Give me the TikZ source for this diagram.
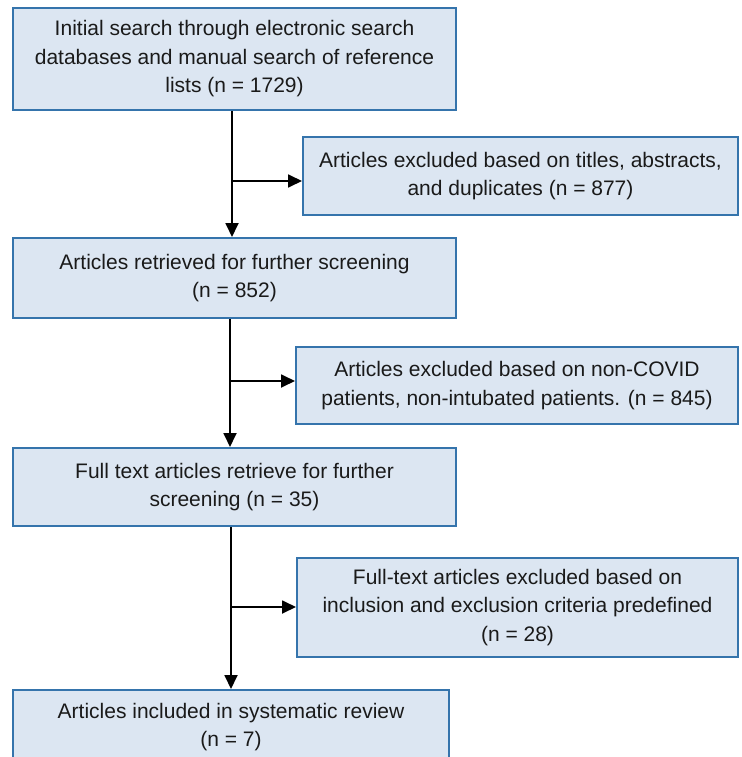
\documentclass[tikz,border=0pt]{standalone}
\usepackage{fontspec}
\setmainfont{Liberation Sans}
\usetikzlibrary{arrows.meta}
\definecolor{boxfill}{HTML}{DCE6F2}
\definecolor{boxline}{HTML}{3574AC}
\definecolor{txt}{HTML}{1A1A1A}
\begin{document}
\begin{tikzpicture}[x=1pt,y=-1pt,
  fbox/.style={draw=boxline, line width=2pt, fill=boxfill, text=txt,
    align=center, inner sep=0pt, font=\fontsize{21}{28.5}\selectfont},
  conn/.style={draw=black, line width=1.8pt, -{Triangle[length=14pt,width=13pt]}}]
\clip (0,0) rectangle (741,757);
\useasboundingbox (0,0) rectangle (741,757);
\fill[white] (0,0) rectangle (741,757);
\node[fbox, minimum width=443pt, minimum height=102pt] (b1) at (234.5,59)
  {Initial search through electronic search\\databases and manual search of reference\\lists (n = 1729)};
\node[fbox, minimum width=435pt, minimum height=78pt] (b2) at (520.5,176)
  {Articles excluded based on titles, abstracts,\\and duplicates (n = 877)};
\node[fbox, minimum width=443pt, minimum height=80pt] (b3) at (234.5,278)
  {Articles retrieved for further screening\\(n = 852)};
\node[fbox, minimum width=442pt, minimum height=77pt] (b4) at (517,385.5)
  {Articles excluded based on non-COVID\\patients, non-intubated patients. (n = 845)};
\node[fbox, minimum width=443pt, minimum height=78pt] (b5) at (234.5,487)
  {Full text articles retrieve for further\\screening (n = 35)};
\node[fbox, minimum width=441pt, minimum height=99pt] (b6) at (517.5,607.5)
  {Full-text articles excluded based on\\inclusion and exclusion criteria predefined\\(n = 28)};
\node[fbox, minimum width=436pt, minimum height=74pt] (b7) at (231,727)
  {Articles included in systematic review\\(n = 7)};
\coordinate (j1) at (232,181);
\coordinate (j2) at (230,381);
\coordinate (j3) at (231,607);
\draw[conn] (b1.south -| j1) -- (b3.north -| j1);
\draw[conn] (j1) -- (b2.west |- j1);
\draw[conn] (b3.south -| j2) -- (b5.north -| j2);
\draw[conn] (j2) -- (b4.west |- j2);
\draw[conn] (b5.south -| j3) -- (b7.north -| j3);
\draw[conn] (j3) -- (b6.west |- j3);
\end{tikzpicture}
\end{document}
